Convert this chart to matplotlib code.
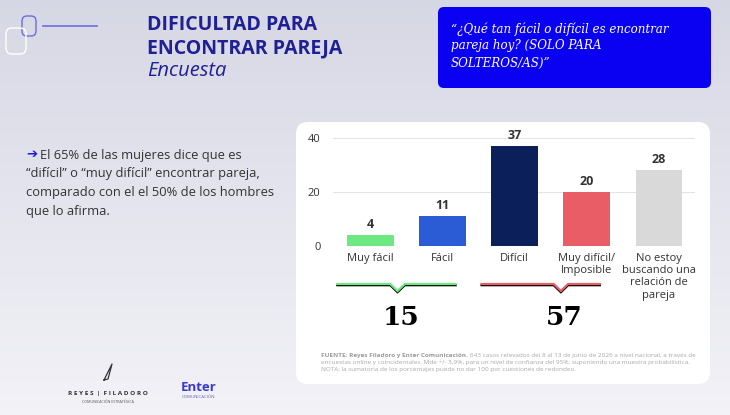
import numpy as np
import matplotlib.pyplot as plt
from matplotlib.patches import FancyBboxPatch
from matplotlib import transforms

# data
categories = ["Muy fácil", "Fácil", "Difícil", "Muy difícil/\nImposible",
              "No estoy\nbuscando una\nrelación de\npareja"]
values = [4, 11, 37, 20, 28]
colors = ["#6ee882", "#2c5bd6", "#0b1f5b", "#e85d66", "#d9d9d9"]
yticks = [0, 20, 40]
easy_idx = [0, 1]
hard_idx = [2, 3]

plt.rcParams['font.family'] = ['Open Sans', 'DejaVu Sans']

fig = plt.figure(figsize=(7.3, 4.15), dpi=100)

# background in pixel coordinates
bg = fig.add_axes([0, 0, 1, 1])
bg.set_xlim(0, 730)
bg.set_ylim(415, 0)
bg.axis("off")
grad = np.linspace(0, 1, 256)[:, None] * np.ones((1, 2))
top = np.array([0.84, 0.845, 0.895])
bot = np.array([0.95, 0.95, 0.97])
img = top[None, None, :] * (1 - grad[..., None]) + bot[None, None, :] * grad[..., None]
bg.imshow(img, extent=[0, 730, 415, 0], aspect="auto", zorder=0)

# white card
bg.add_patch(FancyBboxPatch((296, 122), 414, 262, boxstyle="round,pad=0,rounding_size=12",
                            fc="white", ec="none", zorder=1))

# title block
bg.plot([43, 97], [26, 26], color="#6b6be6", lw=1.2, zorder=2)
bg.add_patch(FancyBboxPatch((22, 16), 14, 20, boxstyle="round,pad=0,rounding_size=5",
                            fc="none", ec="#6b6be6", lw=1.0, zorder=2))
bg.add_patch(FancyBboxPatch((6, 28), 20, 26, boxstyle="round,pad=0,rounding_size=6",
                            fc="none", ec="white", lw=1.0, zorder=2))
bg.text(147, 25, "DIFICULTAD PARA", color="#1f1f96", fontsize=14, fontweight="bold",
        va="center", zorder=3)
bg.text(147, 48, "ENCONTRAR PAREJA", color="#1f1f96", fontsize=14, fontweight="bold",
        va="center", zorder=3)
bg.text(147, 71, "Encuesta", color="#1f1f96", fontsize=14.5, style="italic",
        va="center", zorder=3)

# question box
bg.add_patch(FancyBboxPatch((438, 7), 273, 81, boxstyle="round,pad=0,rounding_size=6",
                            fc="#0a00f2", ec="none", zorder=2))
for i, line in enumerate(["“¿Qué tan fácil o difícil es encontrar",
                          "pareja hoy? (SOLO PARA",
                          "SOLTEROS/AS)”"]):
    bg.text(451, 29 + i * 17, line, color="white", fontsize=8.6, style="italic",
            family="DejaVu Serif", va="center", zorder=3)

# left comment
bg.text(26, 155, "➔", color="#1a1ae0", fontsize=9.5, family="DejaVu Sans", va="center", zorder=3)
left_lines = ["El 65% de las mujeres dice que es",
              "“difícil” o “muy difícil” encontrar pareja,",
              "comparado con el el 50% de los hombres",
              "que lo afirma."]
for i, line in enumerate(left_lines):
    bg.text(40 if i == 0 else 26, 155 + i * 18.7, line, color="#333333", fontsize=9.3,
            va="center", zorder=3)

# chart
ax = fig.add_axes([333 / 730, 1 - 246 / 415, 362 / 730, 113.4 / 415])
ax.set_zorder(2)
ax.patch.set_alpha(0)
x = np.arange(len(categories))
bars = ax.bar(x, values, width=0.65, color=colors, zorder=2)
for b, v in zip(bars, values):
    ax.text(b.get_x() + b.get_width() / 2, v + 1.6, str(v), ha="center", va="bottom",
            fontsize=9, fontweight="bold", color="#333333")
ax.set_xlim(-0.52, 4.5)
ax.set_ylim(0, 42)
ax.set_yticks(yticks)
ax.set_xticks(x)
ax.set_xticklabels(categories, fontsize=8, color="#333333", linespacing=1.15)
ax.tick_params(axis="y", labelsize=8, labelcolor="#333333", length=0, pad=9)
ax.tick_params(axis="x", length=0, pad=5)
ax.grid(axis="y", color="#e3e3e3", lw=0.8, zorder=0)
ax.set_axisbelow(True)
for s in ax.spines.values():
    s.set_visible(False)

# group brackets
tr = transforms.blended_transform_factory(ax.transData, bg.transData)


def bracket(idx, color, tip):
    x0 = idx[0] - 0.46
    x1 = idx[-1] + 0.18
    xs = [x0, tip - 0.1, tip, tip + 0.1, x1]
    ys = [284, 284, 291, 284, 284]
    bg.plot(xs, [y + 1.2 for y in ys], color="black", lw=1.6, transform=tr, zorder=3,
            solid_joinstyle="miter")
    bg.plot(xs, ys, color=color, lw=1.6, transform=tr, zorder=4, solid_joinstyle="miter")
    total = sum(values[i] for i in idx)
    bg.text(tip + 0.05, 317, str(total), transform=tr, ha="center", va="center",
            fontsize=19, fontweight="bold", family="DejaVu Serif", color="black", zorder=4)


bracket(easy_idx, "#6ee882", 0.375)
bracket(hard_idx, "#e85d66", 2.64)

# footnote
fs_note = 4.55
bold = bg.text(321, 355, "FUENTE: Reyes Filadoro y Enter Comunicación.", fontsize=fs_note,
               fontweight="bold", color="#9a9a9a", va="center", zorder=3)
fig.canvas.draw()
bb = bold.get_window_extent()
x_end = bg.transData.inverted().transform((bb.x1, bb.y0))[0]
bg.text(x_end + 2, 355, "643 casos relevados del 8 al 13 de junio de 2026 a nivel nacional, a través de",
        fontsize=fs_note, color="#a8a8a8", va="center", zorder=3)
bg.text(321, 362, "encuestas online y coincidentales. Mde +/- 3,9%, para un nivel de confianza del 95%, suponiendo una muestra probabilística.",
        fontsize=fs_note, color="#a8a8a8", va="center", zorder=3)
bg.text(321, 369, "NOTA: la sumatoria de los porcentajes puede no dar 100 por cuestiones de redondeo.",
        fontsize=fs_note, color="#a8a8a8", va="center", zorder=3)

# logos
bg.plot([104, 112, 108, 104], [380, 364, 379, 380], color="#333333", lw=0.9, zorder=3)
bg.text(108, 393, "R E Y E S  |  F I L A D O R O", fontsize=4.6, fontweight="bold", color="#333333",
        ha="center", va="center", zorder=3)
bg.text(108, 402, "COMUNICACIÓN ESTRATÉGICA", fontsize=2.6, color="#555555",
        ha="center", va="center", zorder=3)
bg.text(199, 387, "Enter", fontsize=9.5, fontweight="bold", color="#3a3ad0",
        ha="center", va="center", zorder=3)
bg.text(199, 397, "COMUNICACIÓN", fontsize=3.2, color="#6666bb",
        ha="center", va="center", zorder=3)

fig.savefig("out.png", dpi=100)
